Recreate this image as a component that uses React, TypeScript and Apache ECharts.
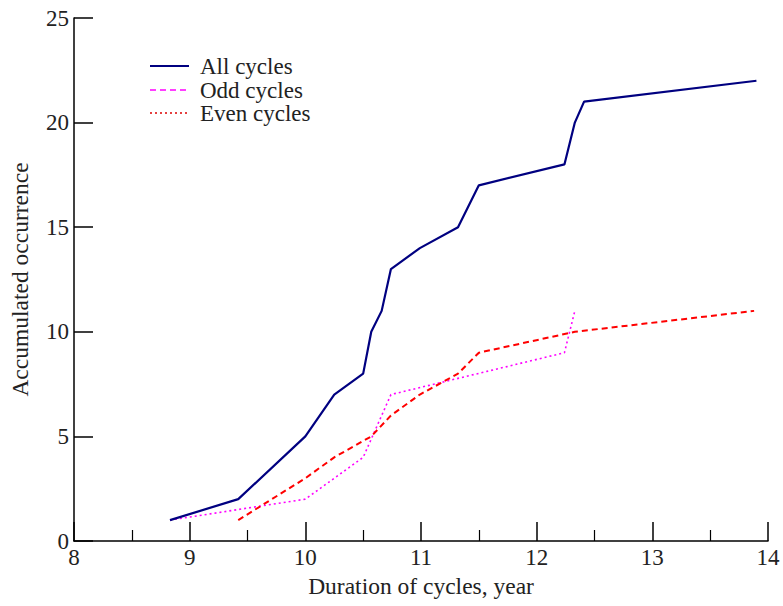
import React, { useEffect, useRef } from "react";
import * as echarts from "echarts";

// Cycle durations (years) and accumulated occurrence for each group
const allX = [8.83, 9.42, 10.0, 10.25, 10.5, 10.57, 10.66, 10.74, 10.99, 11.32, 11.5, 12.24, 12.33, 12.41, 13.9];
const allY = [1, 2, 5, 7, 8, 10, 11, 13, 14, 15, 17, 18, 20, 21, 22];

const oddX = [9.42, 10.0, 10.25, 10.57, 10.74, 10.99, 11.32, 11.5, 12.33, 13.88];
const oddY = [1, 3, 4, 5, 6, 7, 8, 9, 10, 11];

const evenX = [8.83, 10.0, 10.25, 10.5, 10.74, 12.24, 12.33];
const evenY = [1, 2, 3, 4, 7, 9, 11];

const legendNames = ["All cycles", "Odd cycles", "Even cycles"];

const FONT = "'Liberation Serif', 'DejaVu Serif', serif";

const zip = (xs: number[], ys: number[]) => xs.map((x, i) => [x, ys[i]]);

export default function App() {
  const ref = useRef<HTMLDivElement>(null);

  useEffect(() => {
    if (!ref.current) return;
    const chart = echarts.init(ref.current, undefined, { renderer: "svg" });

    const legendLine = (y: number, color: string, type: any, width: number) => ({
      type: "line",
      shape: { x1: 150, y1: y, x2: 189, y2: y },
      style: { stroke: color, lineWidth: width, lineDash: type },
      silent: true,
    });
    const legendText = (y: number, text: string) => ({
      type: "text",
      x: 200,
      y,
      style: {
        text,
        fill: "#222",
        font: `23px ${FONT}`,
        textVerticalAlign: "middle",
      },
      silent: true,
    });

    chart.setOption({
      animation: false,
      backgroundColor: "#fff",
      grid: { left: 72, right: 15, top: 18, bottom: 65 },
      xAxis: {
        type: "value",
        min: 8,
        max: 14,
        interval: 1,
        name: "Duration of cycles, year",
        nameLocation: "middle",
        nameGap: 32,
        nameTextStyle: { fontFamily: FONT, fontSize: 23.5, color: "#222" },
        axisLine: { show: true, onZero: false, lineStyle: { color: "#000", width: 1.5 } },
        axisTick: { show: true, inside: true, length: 19, lineStyle: { color: "#000", width: 1.5 } },
        minorTick: { show: true, splitNumber: 2, length: 11, lineStyle: { color: "#000", width: 1.2 } },
        axisLabel: { fontFamily: FONT, fontSize: 23, color: "#222", margin: 5 },
        splitLine: { show: false },
      },
      yAxis: {
        type: "value",
        min: 0,
        max: 25,
        interval: 5,
        name: "Accumulated occurrence",
        nameLocation: "middle",
        nameGap: 42,
        nameRotate: 90,
        nameTextStyle: { fontFamily: FONT, fontSize: 23.5, color: "#222" },
        axisLine: { show: true, onZero: false, lineStyle: { color: "#000", width: 1.5 } },
        axisTick: { show: true, inside: true, length: 19, lineStyle: { color: "#000", width: 1.5 } },
        axisLabel: { fontFamily: FONT, fontSize: 23, color: "#222", margin: 5 },
        splitLine: { show: false },
      },
      series: [
        {
          name: legendNames[0],
          type: "line",
          data: zip(allX, allY),
          showSymbol: false,
          lineStyle: { color: "#000080", width: 2.2, type: "solid" },
          itemStyle: { color: "#000080" },
          z: 3,
        },
        {
          name: legendNames[1],
          type: "line",
          data: zip(oddX, oddY),
          showSymbol: false,
          lineStyle: { color: "#ff0000", width: 2, type: [6, 4] },
          itemStyle: { color: "#ff0000" },
          z: 2,
        },
        {
          name: legendNames[2],
          type: "line",
          data: zip(evenX, evenY),
          showSymbol: false,
          lineStyle: { color: "#ff00ff", width: 1.6, type: [2, 3] },
          itemStyle: { color: "#ff00ff" },
          z: 1,
        },
      ],
      graphic: [
        legendLine(66, "#000080", null, 2.2),
        legendText(66, legendNames[0]),
        legendLine(90, "#ff00ff", [6, 4], 1.4),
        legendText(90, legendNames[1]),
        legendLine(113, "#dd0000", [2, 3], 1.4),
        legendText(113, legendNames[2]),
      ],
    });

    return () => chart.dispose();
  }, []);

  return (
    <div
      ref={ref}
      style={{ position: "absolute", left: 0, top: 0, width: 783, height: 606 }}
    />
  );
}
